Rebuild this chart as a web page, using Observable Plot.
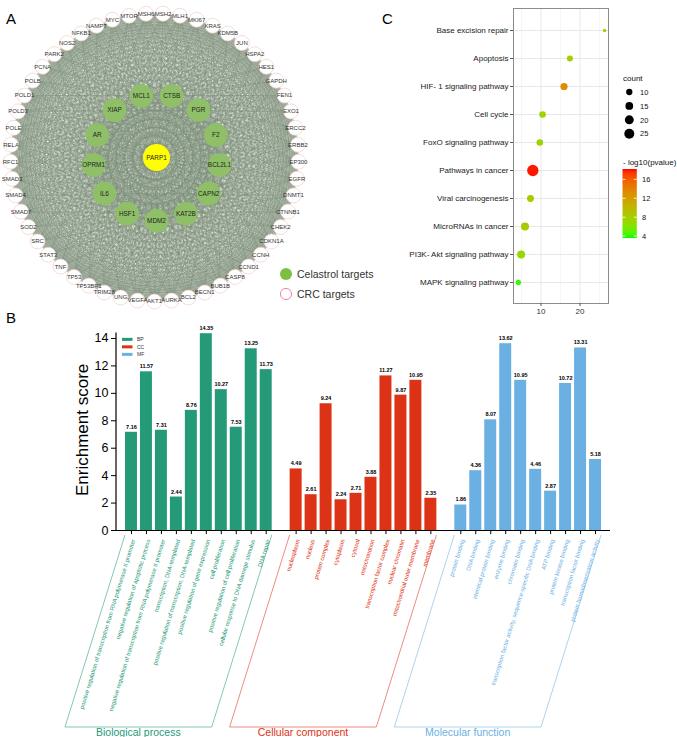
<!DOCTYPE html>
<html><head><meta charset="utf-8">
<script src="https://cdn.jsdelivr.net/npm/d3@7"></script>
<script src="https://cdn.jsdelivr.net/npm/@observablehq/plot@0.6"></script>
<style>
body{margin:0;background:#fff;}
#root{position:relative;width:677px;height:737px;overflow:hidden;font-family:"Liberation Sans",Arial,sans-serif;}
#root > div{position:absolute;}
svg{overflow:visible;}
</style></head><body><div id="root"></div>
<script>
// ---------- Panel A: network ----------
const outerGenes = ["AKT1","AURKA","BCL2","BECN1","BUB1B","CASP8","CCND1","CCNH","CDKN1A","CHEK2","CTNNB1","DNMT1","EGFR","EP300","ERBB2","ERCC2","EXO1","FEN1","GAPDH","HES1","HSPA2","JUN","KDM5B","KRAS","MKI67","MLH1","MSH2","MSH6","MTOR","MYC","NAMPT","NFKB1","NOS2","PARK2","PCNA","POLB","POLD1","POLD3","POLE","RELA","RFC1","SMAD3","SMAD4","SMAD7","SOD2","SRC","STAT3","TNF","TP53","TP53BP1","TRIM28","UNG","VEGFA"];
const innerGenes = ["MCL1","CTSB","PGR","F2","BCL2L1","CAPN2","KAT2B","MDM2","HSF1","IL6","OPRM1","AR","XIAP"];
const hubGene = "PARP1";
const legendA = ["Celastrol targets","CRC targets"];

// ---------- Panel B: GO enrichment ----------
const bpTerms = ["positive regulation of transcription from RNA polymerase II promoter","negative regulation of apoptotic process","negative regulation of transcription from RNA polymerase II promoter","transcription, DNA-templated","positive regulation of transcription, DNA-templated","positive regulation of gene expression","cell proliferation","positive regulation of cell proliferation","cellular response to DNA damage stimulus","DNA repair"];
const bpScores = [7.16,11.57,7.31,2.44,8.76,14.35,10.27,7.53,13.25,11.73];
const ccTerms = ["nucleoplasm","nucleus","protein complex","cytoplasm","cytosol","mitochondrion","transcription factor complex","nuclear chromatin","mitochondrial outer membrane","membrane"];
const ccScores = [4.49,2.61,9.24,2.24,2.71,3.88,11.27,9.87,10.95,2.35];
const mfTerms = ["protein binding","DNA binding","identical protein binding","enzyme binding","chromatin binding","transcription factor activity, sequence-specific DNA binding","ATP binding","protein kinase binding","transcription factor binding","protein homodimerization activity"];
const mfScores = [1.86,4.36,8.07,13.62,10.95,4.46,2.87,10.72,13.31,5.18];
const groupKeys = ["BP","CC","MF"];
const groupNames = ["Biological process","Cellular component","Molecular function"];
const groupColors = ["#259a78","#dc3215","#6bb0e3"];
const yTicksB = [0,2,4,6,8,10,12,14];

// ---------- Panel C: KEGG ----------
const pathways = ["Base excision repair","Apoptosis","HIF- 1 signaling pathway","Cell cycle","FoxO signaling pathway","Pathways in cancer","Viral carcinogenesis","MicroRNAs in cancer","PI3K- Akt signaling pathway","MAPK signaling pathway"];
const pathwayX = [26.3,17.4,15.9,10.4,9.7,7.9,7.3,5.9,4.9,4.2];
const pathwayCount = [3,9,13,11,11,32,12,16,16,7];
const pathwayLogP = [7.6,8.0,13.2,7.8,7.4,18.0,8.4,8.6,7.2,4.0];
const countLegend = [10,15,20,25];
const logpTicks = [4,8,12,16];

const root = document.getElementById("root");
function place(el, left, top){const d=document.createElement("div");d.style.left=left+"px";d.style.top=top+"px";d.appendChild(el);root.appendChild(d);return el;}
const FONT = "Liberation Sans, Arial, sans-serif";

// ===== Panel A =====
const rad = Math.PI/180;
const outerNodes = outerGenes.map((g,i)=>{const t=(90 - i*360/outerGenes.length)*rad;return {name:g,x:Math.cos(t),y:Math.sin(t)};});
const cxIn = 0.014, rIn = 0.44;
const innerNodes = innerGenes.map((g,j)=>{const t=(90 + (j-7)*360/innerGenes.length)*rad;return {name:g,x:cxIn+rIn*Math.cos(t),y:rIn*Math.sin(t)};});
const hubNodes = [{name:hubGene,x:cxIn,y:0}];
const allNodes = [...outerNodes,...innerNodes,...hubNodes];
const edges = [];
for(let i=0;i<allNodes.length;i++)for(let j=i+1;j<allNodes.length;j++)edges.push({x1:allNodes[i].x,y1:allNodes[i].y,x2:allNodes[j].x,y2:allNodes[j].y});

const chartA = Plot.plot({
  width:380, height:312, margin:0,
  style:{fontFamily:FONT, background:"transparent", overflow:"visible"},
  x:{domain:[-1,1], range:[10,298], axis:null},
  y:{domain:[-1,1], range:[13,301], axis:null},
  marks:[
    Plot.link(edges,{x1:"x1",y1:"y1",x2:"x2",y2:"y2",stroke:"#788c72",strokeOpacity:0.52,strokeWidth:0.5}),
    Plot.dot(outerNodes,{x:"x",y:"y",r:7.5,fill:"white",stroke:"#f0cdca",strokeWidth:0.7}),
    Plot.text(outerNodes,{x:"x",y:"y",text:"name",fontSize:6,fill:"#333"}),
    Plot.dot(innerNodes,{x:"x",y:"y",r:11.8,fill:"#8fc068"}),
    Plot.text(innerNodes,{x:"x",y:"y",text:"name",fontSize:6.4,fill:"#222"}),
    Plot.dot(hubNodes,{x:"x",y:"y",r:13.5,fill:"#ffff00"}),
    Plot.text(hubNodes,{x:"x",y:"y",text:"name",fontSize:6.4,fill:"#222"})
  ]
});
place(chartA,0,0);
{
  const s = d3.select(chartA);
  const lg = s.append("g").attr("font-family",FONT).attr("text-anchor","start");
  lg.append("circle").attr("cx",286).attr("cy",274).attr("r",6).attr("fill","#7cc043");
  lg.append("circle").attr("cx",286).attr("cy",294).attr("r",5.6).attr("fill","white").attr("stroke","#ec87a8").attr("stroke-width",1);
  legendA.forEach((t,i)=>lg.append("text").attr("x",297).attr("y",278+20*i).attr("font-size",10.5).attr("fill","#333").attr("text-anchor","start").text(t));
}

// ===== Panel C =====
const keggData = pathways.map((p,i)=>({pathway:p,x:pathwayX[i],count:pathwayCount[i],logp:pathwayLogP[i]}));
const chartC = Plot.plot({
  width:317, height:320, marginLeft:153, marginRight:69, marginTop:8, marginBottom:17,
  style:{fontFamily:FONT, background:"transparent", overflow:"visible"},
  x:{domain:[2.95,27.3], nice:false},
  y:{type:"point", domain:pathways, padding:0.6},
  r:{domain:[0,25], range:[0,5]},
  color:{type:"linear", domain:[3.6,18.2], range:["#00ff00","#ff0000"], interpolate:"lab"},
  marks:[
    Plot.gridX([5,15,25],{stroke:"#f0f0f0",strokeOpacity:1,strokeWidth:0.6}),
    Plot.gridX([10,20],{stroke:"#e8e8e8",strokeOpacity:1,strokeWidth:1}),
    Plot.gridY(pathways,{stroke:"#e8e8e8",strokeOpacity:1,strokeWidth:1}),
    Plot.frame({stroke:"#8c8c8c",strokeWidth:1}),
    Plot.dot(keggData,{x:"x",y:"pathway",r:"count",fill:"logp"}),
    Plot.axisY({tickSize:3, tickPadding:2, fontSize:8, fill:"#222", stroke:"#555", label:null}),
    Plot.axisX({ticks:[10,20], tickSize:3, tickPadding:1.5, fontSize:8, fill:"#333", stroke:"#555", label:null})
  ]
});
place(chartC,360,0);
{
  const s = d3.select(chartC);
  const rS = chartC.scale("r"), cS = chartC.scale("color");
  const g = s.append("g").attr("font-family",FONT).attr("text-anchor","start");
  g.append("text").attr("x",263).attr("y",81).attr("font-size",8).attr("fill","#111").text("count");
  countLegend.forEach((v,i)=>{
    const cy = 92 + i*13.9;
    g.append("circle").attr("cx",269.3).attr("cy",cy).attr("r",rS.apply(v)).attr("fill","black");
    g.append("text").attr("x",280).attr("y",cy+2.7).attr("font-size",7.5).attr("fill","#111").text(v);
  });
  g.append("text").attr("x",263).attr("y",165).attr("font-size",8).attr("fill","#111").text("- log10(pvalue)");
  const dmin = 3.6, dmax = 18.2, top = 169, bot = 238;
  const grad = s.append("defs").append("linearGradient").attr("id","cbarC").attr("x1",0).attr("y1",1).attr("x2",0).attr("y2",0);
  d3.range(0,21).forEach(k=>grad.append("stop").attr("offset",k/20).attr("stop-color",cS.apply(dmin+(dmax-dmin)*k/20)));
  g.append("rect").attr("x",262.5).attr("y",top).attr("width",14.3).attr("height",bot-top).attr("fill","url(#cbarC)");
  logpTicks.forEach(v=>{
    const yy = bot - (v-dmin)/(dmax-dmin)*(bot-top);
    g.append("line").attr("x1",262.5).attr("x2",265.5).attr("y1",yy).attr("y2",yy).attr("stroke","white").attr("stroke-width",0.8);
    g.append("line").attr("x1",273.8).attr("x2",276.8).attr("y1",yy).attr("y2",yy).attr("stroke","white").attr("stroke-width",0.8);
    g.append("text").attr("x",282).attr("y",yy+2.7).attr("font-size",7.5).attr("fill","#111").text(v);
  });
}

// ===== Panel B =====
const goData = [
  ...bpTerms.map((t,i)=>({term:t,score:bpScores[i],group:"BP"})),
  ...ccTerms.map((t,i)=>({term:t,score:ccScores[i],group:"CC"})),
  ...mfTerms.map((t,i)=>({term:t,score:mfScores[i],group:"MF"}))
];
const termDomain = [...bpTerms,"__gap1",...ccTerms,"__gap2",...mfTerms];
const allTerms = [...bpTerms,...ccTerms,...mfTerms];
const chartB = Plot.plot({
  width:677, height:437, marginLeft:116, marginRight:67, marginTop:32.5, marginBottom:207,
  style:{fontFamily:FONT, background:"transparent", overflow:"visible"},
  x:{type:"band", domain:termDomain, paddingInner:0.2, paddingOuter:0.6, axis:null},
  y:{domain:[0,14.4], nice:false},
  color:{domain:groupKeys, range:groupColors},
  marks:[
    Plot.barY(goData,{x:"term",y:"score",fill:"group"}),
    Plot.text(goData,{x:"term",y:"score",text:d=>d.score.toFixed(2),dy:-3.5,lineAnchor:"bottom",fontSize:5.5,fontWeight:"bold",fill:"black"}),
    Plot.ruleY([0],{stroke:"black",strokeWidth:1.2}),
    Plot.ruleX(allTerms,{x:d=>d,y1:0,y2:-0.3,stroke:"black",strokeWidth:1}),
    Plot.text(goData,{x:"term",y:0,text:"term",rotate:-73,textAnchor:"end",dx:2,dy:9,fontSize:5.9,fill:"group"}),
    Plot.axisY({ticks:yTicksB, tickSize:5, tickPadding:3, fontSize:12.5, fill:"black", label:null})
  ]
});
place(chartB,0,300);
{
  const s = d3.select(chartB);
  const xs = chartB.scale("x"), ys = chartB.scale("y");
  const bw = xs.bandwidth;
  const g = s.append("g").attr("font-family",FONT).attr("text-anchor","start");
  g.append("line").attr("x1",xs.range[0]).attr("x2",xs.range[0]).attr("y1",ys.apply(0)).attr("y2",ys.apply(14.4)).attr("stroke","black").attr("stroke-width",1.2);
  g.append("text").attr("transform",`translate(88,${ys.apply(7.3)}) rotate(-90)`).attr("text-anchor","middle").attr("font-size",17).attr("fill","black").text("Enrichment score");
  // legend
  groupKeys.forEach((k,i)=>{
    const yy = ys.apply(13.9) + i*7.5;
    g.append("rect").attr("x",122).attr("y",yy-1.5).attr("width",10.5).attr("height",3).attr("fill",groupColors[i]);
    g.append("text").attr("x",137).attr("y",yy+1.8).attr("font-size",5).attr("fill","#333").text(k);
  });
  // brackets
  const lists = [bpTerms,ccTerms,mfTerms];
  const y0 = ys.apply(0);
  const yTop = y0 + 5, yBot = y0 + 197, shift = 60;
  lists.forEach((terms,i)=>{
    const xa = xs.apply(terms[0]) + bw/2 - 6;
    const xb = xs.apply(terms[terms.length-1]) + bw/2 + 6;
    g.append("path").attr("d",`M${xa},${yTop}L${xa-shift},${yBot}L${xb-shift},${yBot}L${xb},${yTop}`)
      .attr("fill","none").attr("stroke",groupColors[i]).attr("stroke-width",0.7).attr("stroke-opacity",0.8);
    g.append("text").attr("x",(xa+xb)/2-shift).attr("y",yBot+8.5).attr("text-anchor","middle").attr("font-size",10.5).attr("fill",groupColors[i]).text(groupNames[i]);
  });
}

// ===== Panel letters =====
{
  const ov = d3.create("svg").attr("width",677).attr("height",737).style("position","absolute").style("left","0px").style("top","0px").style("pointer-events","none");
  [["A",6,24],["B",6,323],["C",382,24]].forEach(([t,x,y])=>ov.append("text").attr("x",x).attr("y",y).attr("font-family",FONT).attr("font-size",15).attr("fill","black").text(t));
  root.appendChild(ov.node());
}
</script></body></html>
